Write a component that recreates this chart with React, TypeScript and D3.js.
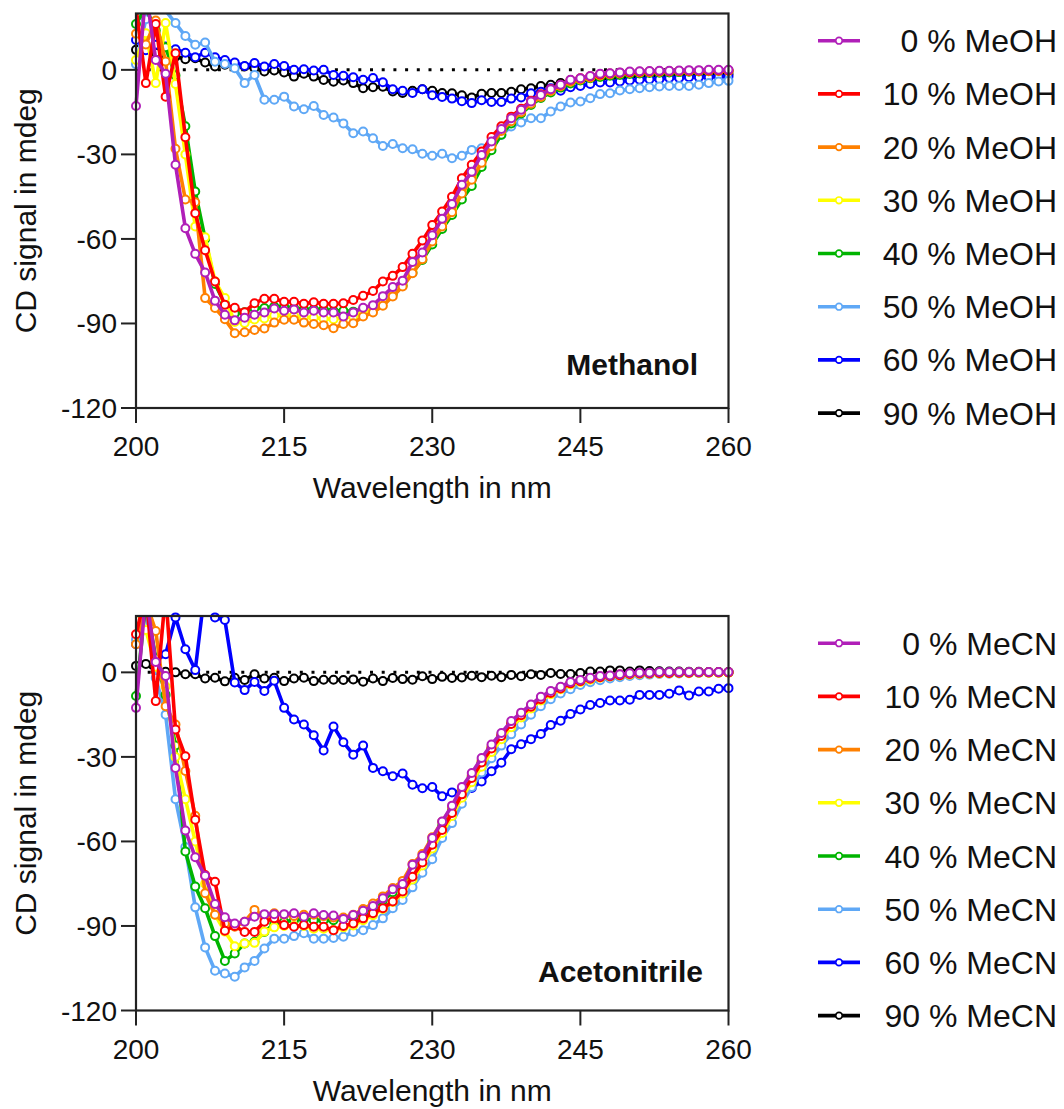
import React from 'react'
import * as d3 from 'd3'

// wavelengths 200..260 nm, 1 nm steps
const wavelengths = d3.range(200, 261)
const percents = ['0', '10', '20', '30', '40', '50', '60', '90']
const colors = ['#b01fb8', '#ff0000', '#ff8000', '#ffff00', '#00b400', '#5fa8f6', '#0000ff', '#000000']
const xTicks = [200, 215, 230, 245, 260]
const yTicks = [0, -30, -60, -90, -120]

// ---- Methanol panel ----
const meoh0 = [-12.8, 28, 3.5, -1.4, -33.7, -56.2, -65.3, -71.9, -81.9, -86.9, -88.9, -88.0, -86.9, -86.1, -84.7, -85.5, -85.0, -86.1, -85.5, -86.1, -86.1, -87.5, -86.1, -84.4, -83.5, -80.3, -77.1, -74.8, -68.2, -64.8, -58.7, -52.8, -47.6, -40.8, -36.2, -30.2, -25.4, -21.0, -17.2, -14.2, -11.2, -8.9, -6.9, -5.3, -3.5, -3.0, -2.2, -1.4, -1.2, -0.9, -0.6, -0.5, -0.4, -0.3, -0.3, -0.2, -0.1, -0.1, 0, 0, 0]
const meoh10 = [22, -4.7, 16.3, -9.5, 5.9, -23.9, -50.9, -64, -75.1, -83.4, -84.4, -86, -82.8, -81.2, -81.2, -82.3, -82.3, -83.0, -82.5, -83.0, -83.0, -82.8, -81.7, -80.2, -78.5, -75.1, -73.1, -70.0, -65.3, -60.6, -55.1, -50.3, -45.0, -38.5, -33.7, -29.0, -23.8, -20.0, -16.6, -13.8, -11.0, -8.7, -6.8, -5.3, -3.6, -3.0, -2.3, -1.6, -1.3, -1.0, -0.8, -0.7, -0.6, -0.5, -0.5, -0.4, -0.3, -0.3, -0.2, -0.2, -0.2]
const meoh20 = [12.8, 9, 17.5, 3, -28, -46, -47, -81, -84.5, -88.5, -93.5, -93.1, -92.3, -91.8, -89.7, -88.7, -88.7, -89.7, -90.2, -90.6, -91.7, -90.2, -89.9, -87.5, -86.1, -83.7, -80.4, -76.9, -72.2, -67.2, -60.9, -55.6, -50.5, -43.9, -39.0, -33.0, -27.0, -21.7, -18.2, -15.0, -12.0, -9.6, -7.5, -5.8, -4.2, -3.4, -2.7, -2.0, -1.6, -1.3, -1.0, -0.9, -0.8, -0.7, -0.6, -0.5, -0.5, -0.4, -0.4, -0.3, -0.3]
const meoh30 = [3.5, 13, -4.7, 16.6, -5, -30, -55.6, -59.4, -75, -81, -89.5, -89.8, -88.6, -88.2, -87.2, -87.0, -87.3, -87.8, -88.0, -88.3, -88.5, -88.0, -87.6, -85.8, -84.5, -81.8, -78.8, -75.6, -70.8, -66.0, -60.0, -54.4, -49.2, -42.6, -37.8, -31.8, -26.2, -21.4, -17.8, -14.7, -11.7, -9.3, -7.3, -5.6, -4.0, -3.3, -2.6, -1.9, -1.5, -1.2, -0.9, -0.8, -0.7, -0.6, -0.5, -0.5, -0.4, -0.4, -0.3, -0.3, -0.3]
const meoh40 = [16.3, 22, 14, 8, -2, -20, -43.2, -60, -76, -83, -86.5, -86, -84.5, -84.5, -84, -84, -84.5, -85, -85, -85, -85.5, -85.5, -85.8, -85, -84.5, -82, -79.5, -76.5, -72, -67.5, -62, -56.5, -51.5, -46, -41.2, -34.5, -28.5, -23, -19, -15.5, -12.5, -10, -8, -6.3, -4.8, -3.8, -3, -2.5, -2.1, -1.8, -1.5, -1.3, -1.1, -1, -0.9, -0.8, -0.7, -0.6, -0.5, -0.4, -0.3]
const meoh50 = [2, 18, 24, 21, 16.6, 12, 8.9, 9.7, 2.9, 2.1, 0.6, -4.7, -1.8, -10.6, -10.6, -9.5, -13, -14, -12.8, -16, -16.9, -19, -22.5, -21.9, -24.3, -27, -26.3, -27.8, -28.2, -29.8, -30.5, -29.8, -31.4, -30.5, -28.4, -27.8, -25.4, -23.1, -20.1, -18.7, -17.2, -17.2, -14.8, -13, -11.6, -11.2, -10.1, -8.6, -8.3, -7.3, -6.9, -6.5, -6.2, -5.9, -5.7, -5.7, -5.7, -5.3, -4.7, -4.1, -3.9]
const meoh60 = [10.6, 7, 8.9, 8.3, 7.3, 6.1, 4.5, 6.1, 4.5, 3.5, 2.6, 1.4, 2.4, 1.2, 2.1, 1.4, 0, 0.2, -0.2, 0, -1.8, -2.1, -2.6, -3.5, -2.9, -4.4, -6.9, -7.4, -8.2, -6.9, -9.0, -9.6, -10.2, -11.1, -11.8, -10.8, -11.4, -11.4, -10.2, -9.8, -8.3, -7.8, -6.5, -7.4, -6.2, -5.7, -5.0, -4.5, -4.5, -4.1, -3.8, -3.5, -3.3, -3.3, -2.9, -2.9, -2.6, -2.6, -2.6, -2.4, -2.4]
const meoh90 = [7.1, 8.3, 6.1, 5.3, 4.7, 3.8, 4.1, 2.6, 1.2, 1.8, 1.2, 1.2, 0.6, -0.6, -0.2, -0.9, -2.4, -1.4, -2.4, -3.6, -4.2, -3.8, -4.7, -6.5, -6.2, -6.0, -7.7, -8.2, -7.4, -6.9, -7.4, -8.2, -8.3, -9.0, -9.8, -8.5, -8.2, -8.2, -7.8, -6.9, -6.5, -5.7, -5.3, -4.7, -4.2, -3.8, -3.4, -3.1, -2.8, -2.6, -2.4, -2.2, -2.1, -2.0, -1.9, -1.8, -1.7, -1.7, -1.6, -1.6, -1.5]

// ---- Acetonitrile panel ----
const mecn0 = [-12.6, 28, 3.7, -1.3, -33.9, -56.1, -65.6, -72.2, -82.2, -86.9, -89.1, -88.5, -86.7, -85.8, -85.8, -85.8, -85.5, -86.7, -85.5, -86.1, -86.3, -87.5, -86.1, -84.6, -82.9, -80.2, -77.0, -75.1, -68.3, -65.1, -58.8, -52.9, -47.3, -40.7, -35.7, -30.4, -25.6, -21.5, -17.3, -14.3, -11.4, -8.7, -6.6, -5.1, -3.4, -2.7, -1.9, -1.3, -1.1, -0.7, -0.3, -0.1, -0.1, 0.1, 0.1, 0.1, 0.1, 0.1, 0.1, 0.1, 0.1]
const mecn10 = [13.5, 28, -10.2, 28, -20.3, -29.8, -52.3, -71.9, -74.3, -91.7, -90.0, -92.1, -92.1, -88.5, -87.3, -89.7, -90.3, -89.7, -90.3, -90.3, -91.5, -90.0, -89.1, -87.3, -85.5, -83.7, -81.3, -77.8, -72.5, -67.5, -61.2, -55.9, -49.9, -43.3, -37.5, -32.0, -27.0, -22.6, -18.3, -15.2, -12.2, -9.5, -7.3, -5.7, -3.9, -3.1, -2.3, -1.7, -1.4, -1.0, -0.6, -0.4, -0.4, -0.2, -0.2, -0.1, -0.1, 0, 0, 0, 0]
const mecn20 = [10, 25, 14.7, -12, -18.5, -35, -50.9, -78.4, -86, -89.1, -90.3, -88.5, -84.3, -86.7, -85.5, -86, -86.5, -86, -86, -86.5, -87, -87, -86, -84, -82, -79.5, -76.5, -74, -68, -64.5, -58.5, -53, -47.8, -41.5, -36.5, -31.2, -26.3, -22, -17.8, -14.7, -11.8, -9.1, -7, -5.4, -3.7, -2.9, -2.1, -1.5, -1.2, -0.8, -0.5, -0.3, -0.2, -0.1, -0.1, 0, 0, 0, 0, 0, 0]
const mecn30 = [22, 15, 2, -5, -30, -45, -60, -75, -86, -92, -97.2, -96.2, -96, -92, -90.5, -90, -90, -90, -91, -91, -91.5, -90.5, -89.8, -88, -86.2, -84, -81.5, -78.5, -73.5, -68.5, -62.5, -57, -51, -44.5, -39, -33.5, -28.3, -23.7, -19.5, -16, -12.8, -10, -7.8, -6, -4.3, -3.4, -2.6, -1.9, -1.5, -1.1, -0.8, -0.6, -0.5, -0.4, -0.3, -0.2, -0.2, -0.1, -0.1, -0.1, -0.1]
const mecn40 = [-8.4, 25, 5, -8, -26, -63.6, -76, -83.7, -93.6, -102.4, -99.8, -96.2, -95.6, -92.1, -89.3, -88.5, -88, -87.5, -88, -88, -88, -87.5, -87, -85.5, -83.5, -81, -78, -75.5, -70, -66, -60, -54.5, -49, -42.5, -37, -32, -27, -22.5, -18.3, -15, -12, -9.3, -7.2, -5.6, -3.9, -3, -2.2, -1.6, -1.3, -0.9, -0.6, -0.4, -0.3, -0.2, -0.1, -0.1, 0, 0, 0, 0, 0]
const mecn50 = [11.7, 22, -2, -15, -45, -62, -83.4, -97.6, -105.9, -106.9, -108.0, -104.7, -102.4, -98.0, -94.5, -94.5, -93.6, -92.6, -94.5, -94.5, -94.3, -93.8, -92.1, -91.5, -89.7, -87.3, -83.7, -80.8, -76.3, -71.1, -66.3, -58.8, -53.5, -46.6, -40.7, -35.5, -30.5, -26, -22, -18.5, -15, -12, -9.5, -7.5, -6, -4.5, -3.5, -2.8, -2.2, -1.7, -1.3, -1, -0.8, -0.6, -0.5, -0.4, -0.3, -0.2, -0.1, -0.1, 0]
const mecn60 = [10, 25, 4, 6.4, 19.5, 8.2, 0.8, 30, 19.5, 18.6, -3.6, -6.3, -3.4, -6.6, -3, -12.6, -16.7, -18.5, -22.3, -27.7, -19.2, -24.8, -29.2, -26, -33.9, -35.1, -36.9, -35.9, -39.9, -41.1, -40.7, -44, -42.6, -42, -41, -38.7, -35.1, -32.1, -27.3, -25.5, -23.7, -21.9, -18.7, -17.2, -14.8, -13.2, -11.6, -10.9, -10, -10, -9.7, -8, -8, -8, -7.6, -6.4, -8.2, -6.8, -6.8, -5.8, -5.6]
const mecn90 = [2.3, 3, 0.5, 0.2, 0, -0.7, -0.7, -2.2, -1.9, -3.2, -1.9, -2.7, -0.7, -2.2, -1.9, -3.1, -2.2, -1.9, -3.1, -2.6, -2.6, -2.7, -2.5, -3.3, -2.2, -3.1, -2.0, -2.4, -2.6, -1.4, -2.4, -1.6, -2.0, -1.8, -1.2, -1.7, -1.2, -1.7, -0.9, -1.4, -0.7, -0.9, -0.2, -0.6, -0.6, -0.2, 0.3, 0.3, 0.7, 0.7, 0.3, 0.7, 0.5, 0.4, 0.3, 0.3, 0.2, 0.2, 0.1, 0.1, 0.1]

const meohSeries = [meoh0, meoh10, meoh20, meoh30, meoh40, meoh50, meoh60, meoh90]
const mecnSeries = [mecn0, mecn10, mecn20, mecn30, mecn40, mecn50, mecn60, mecn90]

const FONT = '"Liberation Sans", Arial, Helvetica, sans-serif'
const X0 = 136
const X1 = 728.5
const PLOT_H = 394.5

type PanelProps = {
  series: number[][]
  solvent: string
  title: string
  top: number
  id: string
  titleX: number
  titleDy: number
}

const Panel = ({ series, solvent, title, top, id, titleX, titleDy }: PanelProps) => {
  const bottom = top + PLOT_H
  const x = d3.scaleLinear().domain([200, 260]).range([X0, X1])
  const y = d3.scaleLinear().domain([-120, 20]).range([bottom, top])
  const line = d3
    .line<number>()
    .x((_, i) => x(wavelengths[i]))
    .y((d) => y(d))

  // draw highest percentage first so 0 % ends up on top
  const order = d3.range(series.length).reverse()

  return (
    <g>
      <defs>
        <clipPath id={id}>
          <rect x={X0 - 10} y={top} width={X1 - X0 + 20} height={PLOT_H + 10} />
        </clipPath>
      </defs>

      <line
        x1={x(200)}
        x2={x(260)}
        y1={y(0)}
        y2={y(0)}
        stroke="#000"
        strokeWidth={3}
        strokeDasharray="3 8.7"
      />

      {order.map((k) => (
        <g key={k}>
          <path
            d={line(series[k]) || ''}
            fill="none"
            stroke={colors[k]}
            strokeWidth={3.6}
            strokeLinejoin="round"
            clipPath={`url(#${id})`}
          />
          {series[k].map((v, i) =>
            v <= 20 ? (
              <circle
                key={i}
                cx={x(wavelengths[i])}
                cy={y(v)}
                r={4}
                fill="#fff"
                stroke={colors[k]}
                strokeWidth={2}
              />
            ) : null
          )}
        </g>
      ))}

      {/* frame */}
      <rect x={X0} y={top} width={X1 - X0} height={PLOT_H} fill="none" stroke="#222" strokeWidth={2.2} />

      {xTicks.map((t) => (
        <g key={t}>
          <line x1={x(t)} x2={x(t)} y1={bottom} y2={bottom + 15} stroke="#222" strokeWidth={2} />
          <text x={x(t)} y={bottom + 48} textAnchor="middle" fontSize={28} fontFamily={FONT} fill="#111">
            {t}
          </text>
        </g>
      ))}
      {yTicks.map((t) => (
        <g key={t}>
          <line x1={X0 - 15} x2={X0} y1={y(t)} y2={y(t)} stroke="#222" strokeWidth={2} />
          <text x={X0 - 19} y={y(t) + 10} textAnchor="end" fontSize={28} fontFamily={FONT} fill="#111">
            {t}
          </text>
        </g>
      ))}

      <text x={(X0 + X1) / 2} y={bottom + 90} textAnchor="middle" fontSize={30} fontFamily={FONT} fill="#111">
        Wavelength in nm
      </text>
      <text
        transform={`translate(36,${(top + bottom) / 2}) rotate(-90)`}
        textAnchor="middle"
        fontSize={30}
        fontFamily={FONT}
        fill="#111"
      >
        CD signal in mdeg
      </text>
      <text x={titleX} y={bottom - titleDy} textAnchor="end" fontSize={30} fontWeight="bold" fontFamily={FONT} fill="#111">
        {title}
      </text>

      {/* legend */}
      {percents.map((p, i) => {
        const ly = top + 27.2 + i * 53.2
        return (
          <g key={p}>
            <line x1={818} x2={860} y1={ly} y2={ly} stroke={colors[i]} strokeWidth={3.6} />
            <circle cx={839} cy={ly} r={3.3} fill="#fff" stroke={colors[i]} strokeWidth={1.7} />
            <text x={1057} y={ly + 11.5} textAnchor="end" fontSize={32} fontFamily={FONT} fill="#111">
              {`${p} % ${solvent}`}
            </text>
          </g>
        )
      })}
    </g>
  )
}

const App = () => (
  <svg
    width={1064}
    height={1109}
    viewBox="0 0 1064 1109"
    style={{ position: 'absolute', left: 0, top: 0, background: '#fff' }}
  >
    <Panel series={meohSeries} solvent="MeOH" title="Methanol" top={13.5} id="clipTop" titleX={698} titleDy={33} />
    <Panel series={mecnSeries} solvent="MeCN" title="Acetonitrile" top={616} id="clipBottom" titleX={703} titleDy={29} />
  </svg>
)

export default App
